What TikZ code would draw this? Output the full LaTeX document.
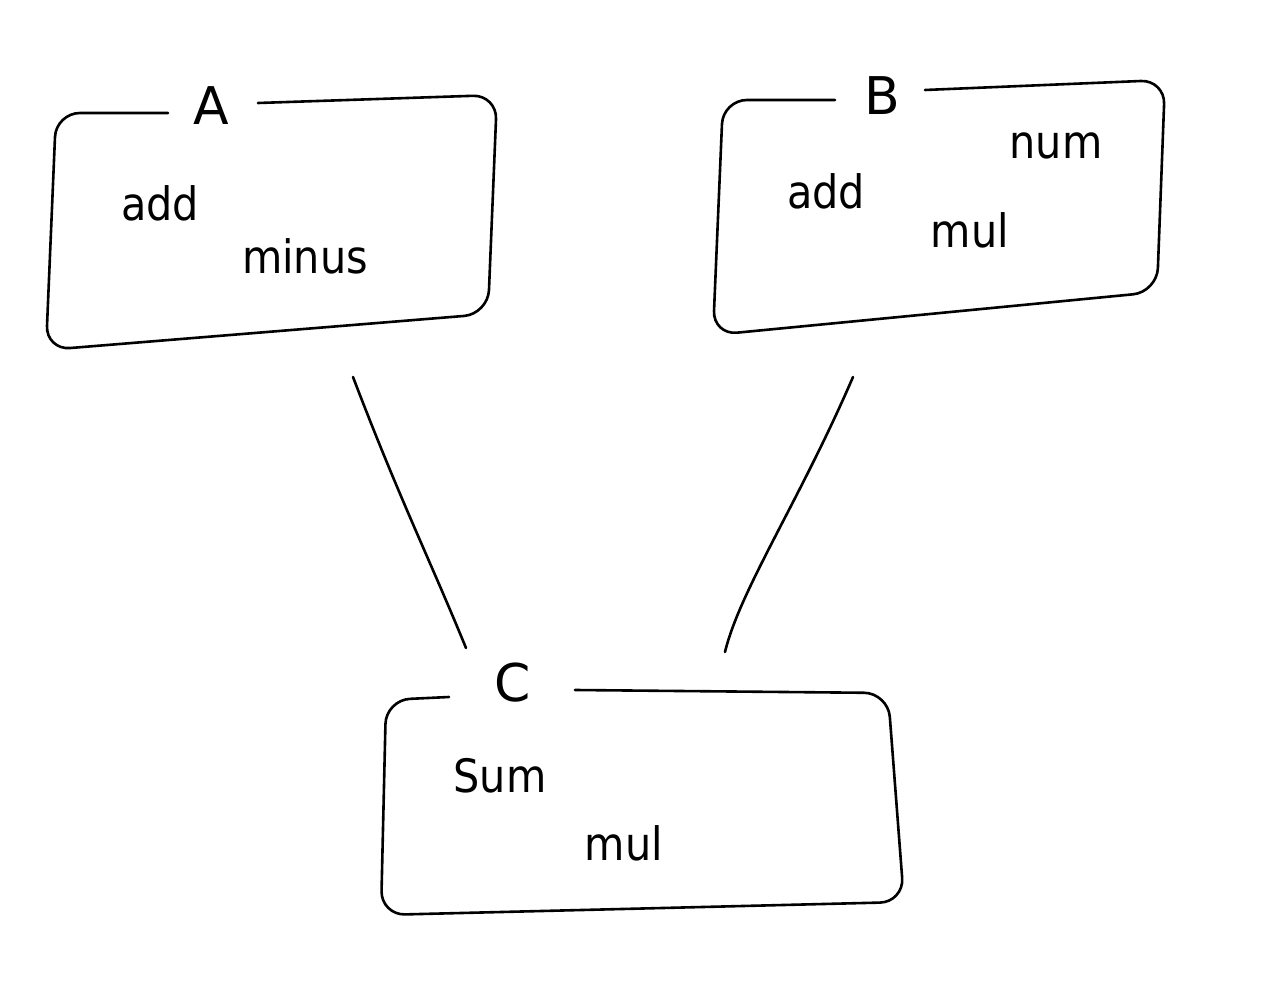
\documentclass[tikz,border=0pt]{standalone}
\usepackage{fontspec}
\setmainfont{DejaVu Sans}
\begin{document}
\begin{tikzpicture}[x=0.5pt,y=-0.5pt,
  sketch/.style={line width=1.3pt,rounded corners=12pt,line cap=round,line join=round},
  link/.style={line width=1.3pt,line cap=round},
  word/.style={font=\fontsize{23}{26}\selectfont\addfontfeature{FakeStretch=0.9}},
  title/.style={font=\fontsize{26}{28}\selectfont}]
\useasboundingbox[fill=white] (0,0) rectangle (1276,1000);
% box A
\draw[sketch] (168,113) -- (56,113) -- (46,350) -- (488,314) -- (497,95) -- (258,103);
\node[title] (tA) at (211,106) {A};
\node[word] (a1) at (160,203) {add};
\node[word] (a2) at (305,256) {minus};
% box B
\draw[sketch] (835,100) -- (723,100) -- (713,335) -- (1157,292) -- (1165,80) -- (925,90);
\node[title] (tB) at (882,96) {B};
\node[word] (b1) at (826,191) {add};
\node[word] (b2) at (1056,146) {num};
\node[word] (b3) at (970,230) {mul};
% box C
\draw[sketch] (449,697) -- (386,700) -- (381,915) -- (904,902) -- (888,693) -- (575,690);
\node[title] (tC) at (513,683) {C};
\node[word] (c1) at (500,776) {Sum};
\node[word] (c2) at (624,843) {mul};
% connectors
\coordinate (pA) at (353,377);
\coordinate (pB) at (853,377);
\coordinate (qA) at (466,648);
\coordinate (qB) at (725,652);
\draw[link] (pA) .. controls (400,500) and (430,560) .. (qA);
\draw[link] (pB) .. controls (800,500) and (740,590) .. (qB);
\end{tikzpicture}
\end{document}
